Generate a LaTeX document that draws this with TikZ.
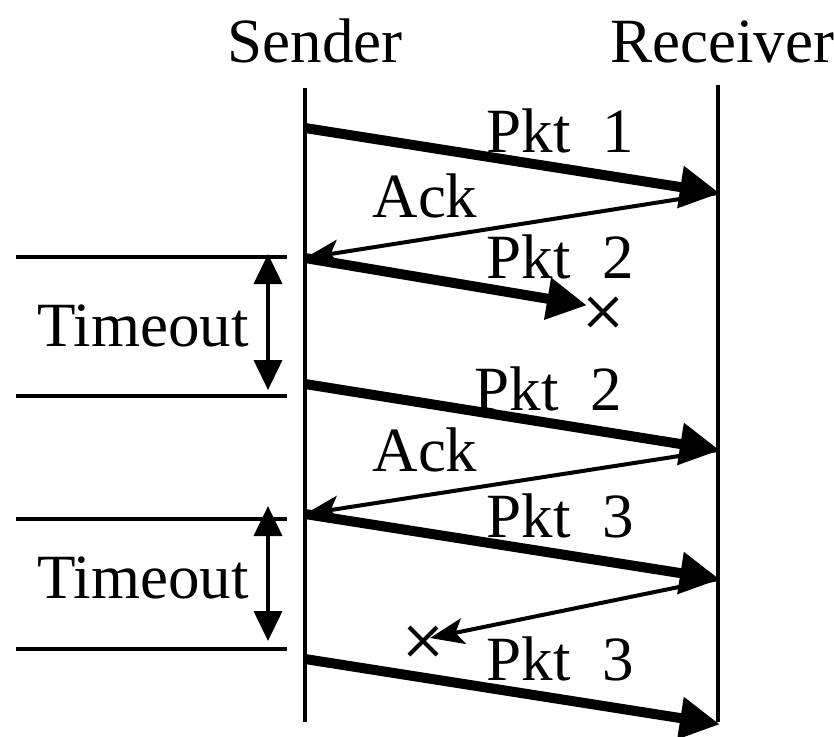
\documentclass[tikz,border=0pt]{standalone}
\usepackage{fontspec}
\setmainfont{Liberation Serif}
\usetikzlibrary{arrows.meta,shapes.misc}
\tikzset{
  lbl/.style={anchor=base, inner sep=0pt, font=\fontsize{63}{70}\selectfont},
  pkt/.style={line width=10pt, -{Triangle[length=40pt,width=40pt]}, shorten >=-2pt},
  ack/.style={line width=4pt, -{Stealth[length=34pt,width=26pt,inset=8pt]}},
  span/.style={line width=4pt, {Triangle[length=30pt,width=28pt]}-{Triangle[length=30pt,width=28pt]}},
  lost/.style={cross out, draw, line width=4pt, minimum size=24pt, inner sep=0pt}
}
\begin{document}
\begin{tikzpicture}[x=1pt,y=-1pt]
\useasboundingbox (0,0) rectangle (834,736);
% time lines
\node[lbl] (sender) at (315,62) {Sender};
\node[lbl] (receiver) at (722,62) {Receiver};
\coordinate (stop) at (305,88);   \coordinate (sbot) at (305,722);
\coordinate (rtop) at (718,85);   \coordinate (rbot) at (718,722);
\draw[line width=4pt] (stop) -- (sbot);
\draw[line width=4pt] (rtop) -- (rbot);

% end points on the time lines
\coordinate (s1) at (305,128);  \coordinate (r1) at (718,193);
\coordinate (s2) at (305,258);
\coordinate (s3) at (305,384);  \coordinate (r3) at (718,450);
\coordinate (s4) at (305,514);  \coordinate (r4) at (718,579);
\coordinate (s5) at (305,659);  \coordinate (r5) at (718,724);
\coordinate (d1) at (585,305);  \coordinate (d2) at (430,638);

\draw[pkt] (s1) -- (r1);
\draw[ack] (r1) -- (s2);
\draw[pkt] (s2) -- (d1);
\node[lost] (x1) at (603,312) {};
\draw[pkt] (s3) -- (r3);
\draw[ack] (r3) -- (s4);
\draw[pkt] (s4) -- (r4);
\draw[ack] (r4) -- (d2);
\node[lost] (x2) at (423,641) {};
\draw[pkt] (s5) -- (r5);

\node[lbl] (p1) at (560,152) {Pkt\ \ 1};
\node[lbl] (a1) at (425,217) {Ack};
\node[lbl] (p2) at (560,278) {Pkt\ \ 2};
\node[lbl] (p2b) at (548,410) {Pkt\ \ 2};
\node[lbl] (a2) at (425,471) {Ack};
\node[lbl] (p3) at (560,537) {Pkt\ \ 3};
\node[lbl] (p3b) at (560,680) {Pkt\ \ 3};

% timeouts
\coordinate (t1a) at (16,257);  \coordinate (t1b) at (287,257);
\coordinate (t2a) at (16,396);  \coordinate (t2b) at (287,396);
\draw[line width=4pt] (t1a) -- (t1b);
\draw[line width=4pt] (t2a) -- (t2b);
\coordinate (u1) at (268,254);  \coordinate (u2) at (268,390);
\draw[span] (u1) -- (u2);
\node[lbl] (to1) at (143,346) {Timeout};

\coordinate (t3a) at (16,519);  \coordinate (t3b) at (287,519);
\coordinate (t4a) at (16,649);  \coordinate (t4b) at (287,649);
\draw[line width=4pt] (t3a) -- (t3b);
\draw[line width=4pt] (t4a) -- (t4b);
\coordinate (u3) at (268,506);  \coordinate (u4) at (268,641);
\draw[span] (u3) -- (u4);
\node[lbl] (to2) at (143,598) {Timeout};
\end{tikzpicture}
\end{document}
